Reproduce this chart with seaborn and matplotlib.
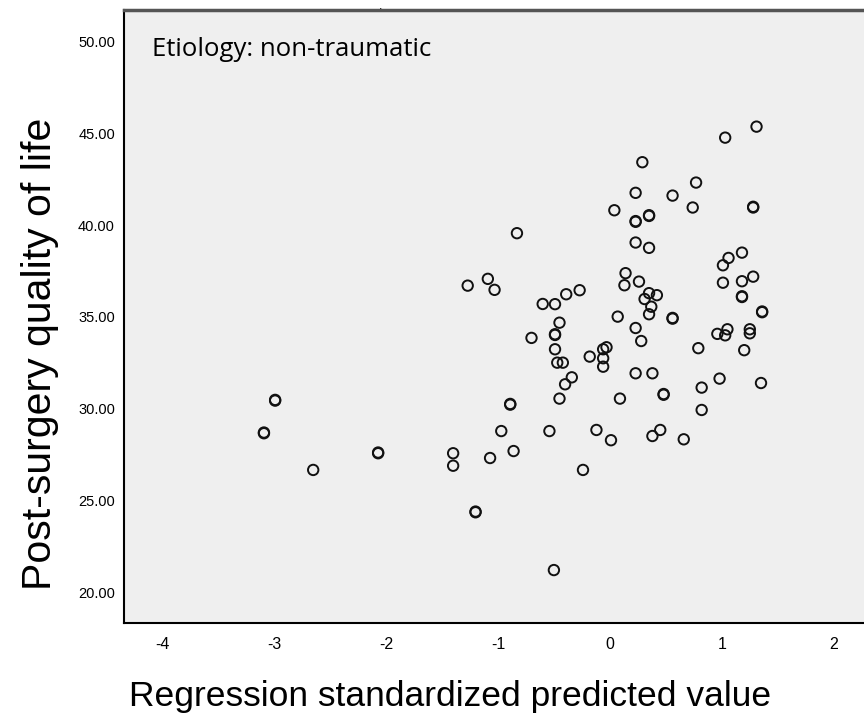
import numpy as np
import pandas as pd
import seaborn as sns
import matplotlib.pyplot as plt

# Regression standardized predicted value (x) vs post-surgery quality of life (y)
pred_x = [-3.09, -3.09, -2.99, -2.99, -2.65, -2.07, -2.07, -1.40, -1.40, -1.20, -1.20,
          -1.07, -0.97, -0.89, -0.89, -0.86, -0.54, -0.50, -0.24, -0.12, 0.01,
          0.38, 0.45, 0.66,
          -1.27, -1.09, -1.03, -0.60, -0.49, -0.39, -0.27, -0.45, -0.49, -0.49,
          -0.70, -0.49, -0.47, -0.42, -0.18, -0.06, -0.03, -0.06, -0.06, -0.34,
          -0.40, -0.45, 0.09, 0.07, 0.23, 0.28, 0.23, 0.38,
          1.31, 1.03, 0.29, 0.77, 0.23, 0.56, 0.74, 1.28, 1.28, 0.04, 0.35, 0.35,
          0.23, 0.23, 0.23, 0.35, 1.18, 1.06, 1.01, 0.14, 0.13, 0.26, 1.01, 1.18,
          1.28, 0.31, 0.35, 0.42, 0.37, 0.35, 1.18, 1.18, 1.36, 1.36, 0.56, 0.56,
          0.96, 1.05, 1.03, 1.25, 1.25, 1.20, 0.79, 0.98, 0.82, 1.35, 0.48, 0.48,
          0.82, -0.83]
quality_y = [28.66, 28.70, 30.44, 30.48, 26.66, 27.57, 27.61, 27.57, 26.89, 24.35, 24.39,
             27.31, 28.78, 30.22, 30.26, 27.69, 28.78, 21.20, 26.66, 28.84, 28.28,
             28.51, 28.84, 28.33,
             36.71, 37.08, 36.48, 35.71, 35.70, 36.24, 36.46, 34.69, 34.02, 34.06,
             33.86, 33.24, 32.51, 32.51, 32.84, 33.24, 33.35, 32.75, 32.29, 31.71,
             31.33, 30.55, 30.55, 35.02, 34.40, 33.69, 31.93, 31.93,
             45.38, 44.78, 43.44, 42.33, 41.77, 41.62, 40.97, 40.97, 41.01, 40.82, 40.51, 40.55,
             40.19, 40.23, 39.06, 38.77, 38.51, 38.22, 37.82, 37.39, 36.73, 36.93, 36.87, 36.95,
             37.20, 35.98, 36.30, 36.19, 35.56, 35.15, 36.09, 36.13, 35.26, 35.30, 34.91, 34.95,
             34.08, 34.33, 34.00, 34.33, 34.11, 33.19, 33.30, 31.64, 31.15, 31.40, 30.76, 30.80,
             29.93, 39.57]

x_ticks = [-4, -3, -2, -1, 0, 1, 2]
y_ticks = [20, 25, 30, 35, 40, 45, 50]

df = pd.DataFrame({"pred": pred_x, "qol": quality_y})

sns.set_style("white")
plt.rcParams["font.family"] = ["Liberation Sans", "DejaVu Sans"]
plt.rcParams["text.color"] = "black"
plt.rcParams["axes.labelcolor"] = "black"
plt.rcParams["xtick.color"] = "black"
plt.rcParams["ytick.color"] = "black"

fig = plt.figure(figsize=(8.64, 7.27), dpi=100)
ax = fig.add_axes([124 / 864, 1 - 622.7 / 727, 1 - 124 / 864, (622.7 - 10) / 727])
ax.set_facecolor("#efefef")

sns.scatterplot(data=df, x="pred", y="qol", ax=ax, marker="o", s=56,
                facecolor="none", edgecolor="#111111", linewidth=1.4)

ax.set_xlim(-4.34, 2.27)
ax.set_ylim(18.33, 51.74)
ax.set_xticks(x_ticks)
ax.set_xticklabels([str(t) for t in x_ticks])
ax.set_yticks(y_ticks)
ax.set_yticklabels([f"{t:.2f}" for t in y_ticks])
ax.tick_params(axis="x", length=6, width=1.3, pad=4, labelsize=11.5, color="black")
ax.tick_params(axis="y", length=4.5, width=1.3, pad=2, labelsize=10.5, color="black")

for side in ["left", "bottom"]:
    ax.spines[side].set_color("black")
    ax.spines[side].set_linewidth(1.5)
ax.spines["top"].set_color("#555555")
ax.spines["top"].set_linewidth(2.5)
ax.spines["right"].set_visible(False)

ax.set_xlabel("Regression standardized predicted value", fontsize=25.5, va="center")
ax.xaxis.set_label_coords(0.44, -0.12)
ax.set_ylabel("Post-surgery quality of life", fontsize=29.5, va="center")
ax.yaxis.set_label_coords(-0.113, 0.439)

ax.text(0.038, 0.935, "Etiology: non-traumatic", transform=ax.transAxes,
        fontsize=18.5, family=["Open Sans", "DejaVu Sans"], va="center", ha="left")
fig.text(381 / 864, 1 - 9 / 727, ".", fontsize=9, ha="center", va="baseline")

fig.savefig("out.png", dpi=100)
